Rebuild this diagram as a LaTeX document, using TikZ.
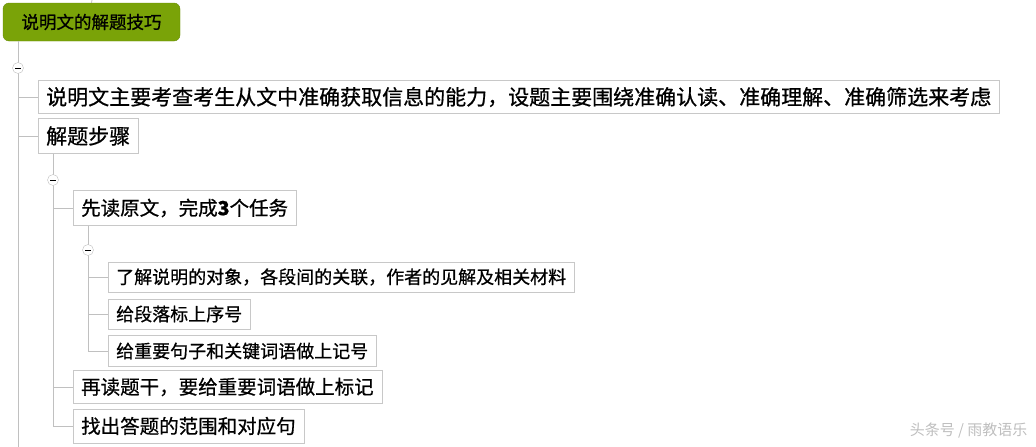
\documentclass[tikz,border=0pt]{standalone}
\usepackage{fontspec}
\setmainfont{Noto Sans CJK SC}[FakeBold=0.7]
\usepackage{xcolor}
\usepackage{tikz}
\definecolor{rootgreen}{RGB}{122,163,8}
\definecolor{rootedge}{RGB}{104,140,6}
\definecolor{boxgray}{RGB}{200,200,200}
\definecolor{linegray}{RGB}{192,192,192}
\definecolor{markgray}{RGB}{190,190,190}
\newfontfamily\markfont{Noto Sans CJK SC}
\tikzset{
  topic/.style={draw=boxgray, fill=white, anchor=west, inner xsep=8pt, inner ysep=0pt},
  link/.style={draw=linegray, line width=0.8pt},
  fold/.style={circle, draw=linegray, fill=white, minimum size=11pt, inner sep=0pt,
    path picture={\draw[black, line width=0.9pt] ([xshift=2.8pt]path picture bounding box.west) -- ([xshift=-2.8pt]path picture bounding box.east);}}
}
\newcommand{\lvone}{\fontsize{21}{21}\selectfont}
\newcommand{\lvtwo}{\fontsize{19.5}{19.5}\selectfont}
\newcommand{\lvthree}{\fontsize{18}{18}\selectfont}
\begin{document}
\begin{tikzpicture}[x=1pt,y=-1pt]
  \useasboundingbox (0,0) rectangle (1036,447);

  % root
  \node[draw=rootedge, fill=rootgreen, rounded corners=6pt, minimum width=177pt, minimum height=38pt,
        font=\fontsize{17.5}{17.5}\selectfont] (root) at (91.5,22) {说明文的解题技巧};
  \coordinate (top) at (92,0);
  \draw[link] (root.north) -- (top);

  % first level
  \node[topic, minimum height=33pt, font=\lvone] (intro) at (38,97)
    {说明文主要考查考生从文中准确获取信息的能力，设题主要围绕准确认读、准确理解、准确筛选来考虑};
  \node[topic, minimum height=35pt, font=\lvone] (steps) at (38,136) {解题步骤};
  \coordinate (f0) at (18,68);
  \coordinate (end) at (18,447);

  % second level
  \node[topic, minimum height=35pt, font=\lvtwo] (read) at (73,208) {先读原文，完成\textbf{3}个任务};
  \node[topic, minimum height=33pt, font=\lvtwo] (stem) at (73,387) {再读题干，要给重要词语做上标记};
  \node[topic, minimum height=34pt, font=\lvtwo] (range) at (73,426) {找出答题的范围和对应句};
  \coordinate (f1) at (53,180);

  % third level
  \node[topic, minimum height=30pt, font=\lvthree] (task1) at (108,277) {了解说明的对象，各段间的关联，作者的见解及相关材料};
  \node[topic, minimum height=30pt, font=\lvthree] (task2) at (108,314) {给段落标上序号};
  \node[topic, minimum height=31pt, font=\lvthree] (task3) at (108,351) {给重要句子和关键词语做上记号};
  \coordinate (f2) at (88,250);

  % connectors
  \draw[link] (root.south -| f0) -- (end);
  \draw[link] (f0) |- (intro.west);
  \draw[link] (f0) |- (steps.west);
  \draw[link] (steps.south -| f1) -- (f1);
  \draw[link] (f1) |- (read.west);
  \draw[link] (f1) |- (stem.west);
  \draw[link] (f1) |- (range.west);
  \draw[link] (read.south -| f2) -- (f2);
  \draw[link] (f2) |- (task1.west);
  \draw[link] (f2) |- (task2.west);
  \draw[link] (f2) |- (task3.west);
  \node[fold] (m0) at (f0) {};
  \node[fold] (m1) at (f1) {};
  \node[fold] (m2) at (f2) {};

  % watermark
  \node[anchor=east, text=markgray, font=\markfont\fontsize{15}{15}\selectfont] (mark) at (1031,431) {头条号 / 雨教语乐};
\end{tikzpicture}
\end{document}
